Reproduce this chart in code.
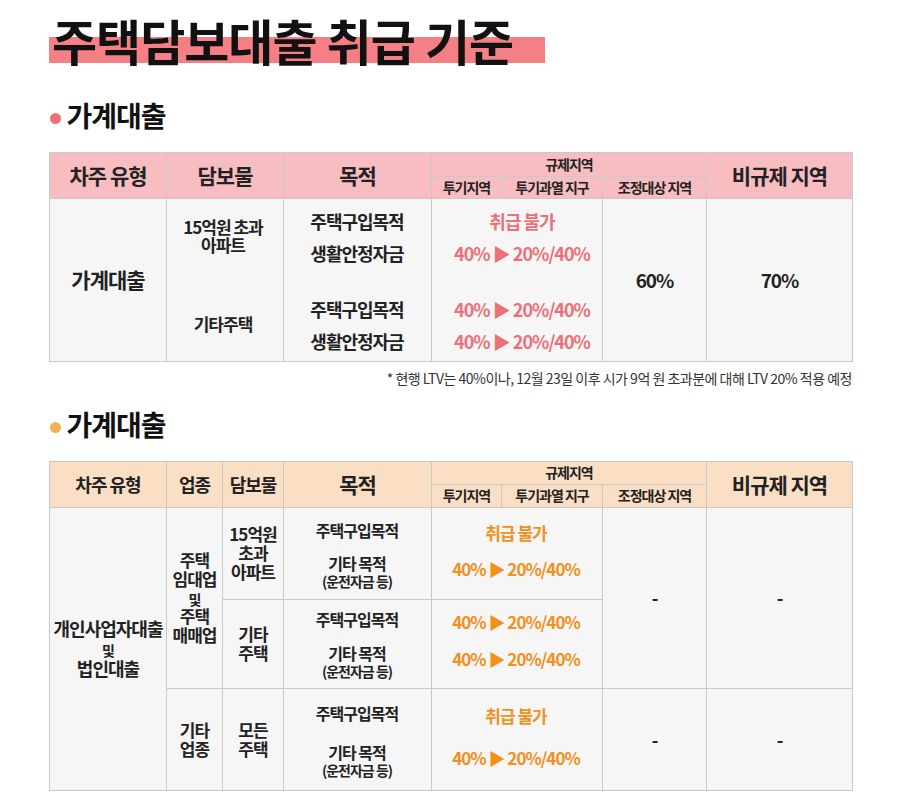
<!DOCTYPE html><html><head><meta charset="utf-8">
<script src="https://cdn.jsdelivr.net/npm/chart.js"></script>
<style>
body{margin:0;width:899px;height:809px;background:#fff;font-family:"Noto Sans CJK KR";position:relative;overflow:hidden}
.c{position:absolute;box-sizing:border-box;border:1px solid #c9c9c9;display:flex;align-items:center;justify-content:center;text-align:center;color:#222;font-weight:700;line-height:1.1;letter-spacing:-1px}
.t{position:absolute;white-space:nowrap;font-weight:700;letter-spacing:-1px;transform:translate(-50%,-50%);line-height:1.05;text-align:center}
</style></head><body>
<div style="position:absolute;left:49px;top:37px;width:496px;height:26px;background:#f47f84"></div>
<div style="position:absolute;left:52px;top:4px;font-size:49px;font-weight:700;letter-spacing:-1px;color:#111">주택담보대출 취급 기준</div>
<div id="root"></div>
<script>
const sections=["가계대출","가계대출"];
const heads1=["차주 유형","담보물","목적","규제지역","투기지역","투기과열 지구","조정대상 지역","비규제 지역"];
const rows1=[["15억원 초과<br>아파트","주택구입목적","취급 불가"],["","생활안정자금","40% ▶ 20%/40%"],["기타주택","주택구입목적","40% ▶ 20%/40%"],["","생활안정자금","40% ▶ 20%/40%"]];
const ltv1=["60%","70%"];
const note="* 현행 LTV는 40%이나, 12월 23일 이후 시가 9억 원 초과분에 대해 LTV 20% 적용 예정";
const heads2=["차주 유형","업종","담보물","목적","규제지역","투기지역","투기과열 지구","조정대상 지역","비규제 지역"];
const p2=["주택구입목적","기타 목적<br><span style='font-size:14px'>(운전자금 등)</span>"];
const v2=["취급 불가","40% ▶ 20%/40%"];
const root=document.getElementById('root');
function cell(x1,y1,x2,y2,bg,html,fs){const d=document.createElement('div');d.className='c';Object.assign(d.style,{left:x1+'px',top:y1+'px',width:(x2-x1+1)+'px',height:(y2-y1+1)+'px',background:bg,fontSize:(fs||18)+'px'});d.innerHTML='<div>'+(html||'')+'</div>';root.appendChild(d);}
function txt(x,y,html,fs,col){const d=document.createElement('div');d.className='t';Object.assign(d.style,{left:x+'px',top:y+'px',fontSize:fs+'px',color:col||'#222'});d.innerHTML=html;root.appendChild(d);}
function bullet(y,col,s){const d=document.createElement('div');Object.assign(d.style,{position:'absolute',left:'50px',top:(y-5)+'px',width:'11px',height:'11px',borderRadius:'50%',background:col});root.appendChild(d);txt(116,y-2,s,28,'#111');}
const G='#f6f6f6';
bullet(118,'#f07078',sections[0]);
let H='#f8bdc1',Y0=152,Ys=176,Y1=198,Y2=361;
cell(49,Y0,166,Y1,H,heads1[0],21);cell(166,Y0,283,Y1,H,heads1[1],21);cell(283,Y0,431,Y1,H,heads1[2],21);
cell(431,Y0,706,Ys,H,heads1[3],14);cell(431,Ys,501,Y1,H,heads1[4],14);cell(501,Ys,602,Y1,H,heads1[5],14);cell(602,Ys,706,Y1,H,heads1[6],14);
cell(706,Y0,852,Y1,H,heads1[7],21);
cell(49,Y1,166,Y2,G,sections[0],21);cell(166,Y1,283,Y2,G);cell(283,Y1,431,Y2,G);cell(431,Y1,602,Y2,G);
cell(602,Y1,706,Y2,G,ltv1[0],19);cell(706,Y1,852,Y2,G,ltv1[1],19);
const ry=[221,253,309,341];
rows1.forEach((r,i)=>{if(r[0])txt(223,i==0?236:324,r[0],17);txt(357,ry[i],r[1],18);txt(522,ry[i],r[2],18,'#ee6f78');});
const n=document.createElement('div');Object.assign(n.style,{position:'absolute',right:'47px',top:'368px',fontSize:'14px',color:'#333',whiteSpace:'nowrap',letterSpacing:'-0.5px'});n.textContent=note;root.appendChild(n);
bullet(427,'#f4b15a',sections[1]);
H='#fbdfc4';Y0=461;Ys=484;Y1=507;
const O='#f3901c';
cell(49,Y0,166,Y1,H,heads2[0],18);cell(166,Y0,222,Y1,H,heads2[1],18);cell(222,Y0,283,Y1,H,heads2[2],18);cell(283,Y0,431,Y1,H,heads2[3],21);
cell(431,Y0,706,Ys,H,heads2[4],14);cell(431,Ys,501,Y1,H,heads2[5],14);cell(501,Ys,602,Y1,H,heads2[6],14);cell(602,Ys,706,Y1,H,heads2[7],14);
cell(706,Y0,852,Y1,H,heads2[8],21);
cell(49,Y1,166,790,G,"개인사업자대출<br><span style='font-size:14px'>및</span><br>법인대출",18);
cell(166,Y1,222,688,G,"주택<br>임대업<br><span style='font-size:14px'>및</span><br>주택<br>매매업",17);
cell(166,688,222,790,G,"기타<br>업종",17);
cell(222,Y1,283,599,G,"15억원<br>초과<br>아파트",17);cell(222,599,283,688,G,"기타<br>주택",17);cell(222,688,283,790,G,"모든<br>주택",17);
[[507,599],[599,688],[688,790]].forEach(([a,b])=>{cell(283,a,431,b,G);cell(431,a,602,b,G);});
cell(602,Y1,706,688,G,"-",18);cell(706,Y1,852,688,G,"-",18);cell(602,688,706,790,G,"-",18);cell(706,688,852,790,G,"-",18);
const blocks=[[530,568,0,1],[619,658,1,1],[713,757,0,1]];
blocks.forEach(([a,b,va,vb])=>{txt(357,a,p2[0],16);txt(357,b+4,p2[1],16);txt(516,a+3,v2[va],17,O);txt(516,b+1,v2[vb],17,O);});
</script></body></html>
